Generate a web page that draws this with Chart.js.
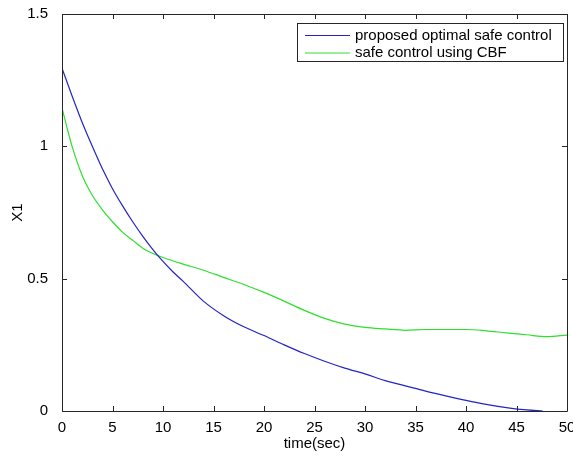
<!DOCTYPE html>
<html>
<head>
<meta charset="utf-8">
<script src="https://cdn.jsdelivr.net/npm/chart.js@4.4.1/dist/chart.umd.min.js"></script>
<style>
  body { margin: 0; background: #fff; }
  canvas { display: block; }
</style>
</head>
<body>
<canvas id="x1Chart" width="573" height="457"></canvas>
<script>
// data
const blueTime = [0, 1, 2, 3, 4, 5, 6, 7, 8, 9, 10, 11, 12, 14, 16, 18, 20, 22, 24, 26, 28, 30, 32, 34, 36, 38, 40, 42, 44, 46, 47.6];
const blueX1 = [1.295, 1.19, 1.09, 1.0, 0.915, 0.84, 0.775, 0.715, 0.66, 0.61, 0.565, 0.525, 0.49, 0.415, 0.36, 0.318, 0.285, 0.25, 0.217, 0.188, 0.162, 0.14, 0.115, 0.095, 0.075, 0.057, 0.04, 0.025, 0.013, 0.004, 0];

const greenTime = [0, 0.5, 1, 2, 3, 4, 5, 6, 7, 8, 9, 10, 12, 14, 16, 18, 20, 22, 24, 26, 28, 30, 32, 34, 36, 38, 40, 42, 44, 46, 48, 50];
const greenX1 = [1.145, 1.07, 1.0, 0.89, 0.815, 0.76, 0.715, 0.675, 0.645, 0.615, 0.595, 0.58, 0.555, 0.532, 0.505, 0.478, 0.448, 0.415, 0.38, 0.35, 0.328, 0.316, 0.31, 0.305, 0.308, 0.308, 0.308, 0.303, 0.295, 0.288, 0.281, 0.287];

const seriesNames = ['proposed optimal safe control', 'safe control using CBF'];
const xTitle = 'time(sec)';
const yTitle = 'X1';

const FONT = 'Liberation Sans, Arial, Helvetica, sans-serif';

function toPoints(xs, ys) {
  return xs.map((x, i) => ({ x: x, y: ys[i] }));
}

// matlab style box with inward ticks + legend
const matlabAxes = {
  id: 'matlabAxes',
  afterDatasetsDraw(chart) {
    const ctx = chart.ctx;
    const a = chart.chartArea;
    const xs = chart.scales.x, ys = chart.scales.y;
    const len = 5;
    ctx.save();
    ctx.strokeStyle = '#262626';
    ctx.lineWidth = 1;
    ctx.beginPath();
    ctx.rect(Math.round(a.left) + 0.5, Math.round(a.top) + 0.5, Math.round(a.right - a.left), Math.round(a.bottom - a.top));
    xs.ticks.forEach(t => {
      const px = Math.round(xs.getPixelForValue(t.value)) + 0.5;
      ctx.moveTo(px, a.bottom); ctx.lineTo(px, a.bottom - len);
      ctx.moveTo(px, a.top); ctx.lineTo(px, a.top + len);
    });
    ys.ticks.forEach(t => {
      const py = Math.round(ys.getPixelForValue(t.value)) + 0.5;
      ctx.moveTo(a.left, py); ctx.lineTo(a.left + len, py);
      ctx.moveTo(a.right, py); ctx.lineTo(a.right - len, py);
    });
    ctx.stroke();

    // legend
    const bx = 297.5, by = 23.5, bw = 266, bh = 38;
    ctx.fillStyle = '#fff';
    ctx.fillRect(bx, by, bw, bh);
    ctx.strokeRect(bx, by, bw, bh);
    ctx.font = '15px ' + FONT;
    ctx.textBaseline = 'middle';
    ctx.textAlign = 'left';
    chart.data.datasets.forEach((ds, i) => {
      const ly = 35.5 + i * 17.5;
      ctx.strokeStyle = ds.borderColor;
      ctx.beginPath();
      ctx.moveTo(305, ly); ctx.lineTo(350, ly);
      ctx.stroke();
      ctx.fillStyle = '#000';
      ctx.fillText(ds.label, 355, ly);
    });
    ctx.restore();
  }
};

new Chart(document.getElementById('x1Chart'), {
  type: 'line',
  data: {
    datasets: [
      {
        label: seriesNames[0],
        data: toPoints(blueTime, blueX1),
        borderColor: '#2424c4',
        borderWidth: 1.2,
        pointRadius: 0,
        cubicInterpolationMode: 'monotone',
        fill: false
      },
      {
        label: seriesNames[1],
        data: toPoints(greenTime, greenX1),
        borderColor: '#2ee02e',
        borderWidth: 1.2,
        pointRadius: 0,
        cubicInterpolationMode: 'monotone',
        fill: false
      }
    ]
  },
  options: {
    responsive: false,
    animation: false,
    layout: { padding: { top: 14, right: 6, left: 0, bottom: 0 } },
    plugins: {
      legend: { display: false },
      tooltip: { enabled: false }
    },
    scales: {
      x: {
        type: 'linear',
        min: 0,
        max: 50,
        grid: { display: false },
        border: { display: false },
        ticks: {
          stepSize: 5,
          maxRotation: 0,
          autoSkip: false,
          padding: 0,
          color: '#000',
          font: { family: FONT, size: 15 }
        },
        title: {
          display: true,
          text: xTitle,
          color: '#000',
          padding: { top: 0, bottom: 4 },
          font: { family: FONT, size: 15 }
        },
        afterFit: s => { s.height = 46; s.paddingLeft = 0; s.paddingRight = 0; }
      },
      y: {
        min: 0,
        max: 1.5,
        grid: { display: false },
        border: { display: false },
        ticks: {
          stepSize: 0.5,
          padding: 6,
          color: '#000',
          font: { family: FONT, size: 15 },
          callback: v => String(v)
        },
        title: {
          display: true,
          text: yTitle,
          color: '#000',
          padding: { top: 9, bottom: 0 },
          font: { family: FONT, size: 15 }
        },
        afterFit: s => { s.width = 62; s.paddingTop = 0; s.paddingBottom = 0; }
      }
    }
  },
  plugins: [matlabAxes]
});
</script>
</body>
</html>
